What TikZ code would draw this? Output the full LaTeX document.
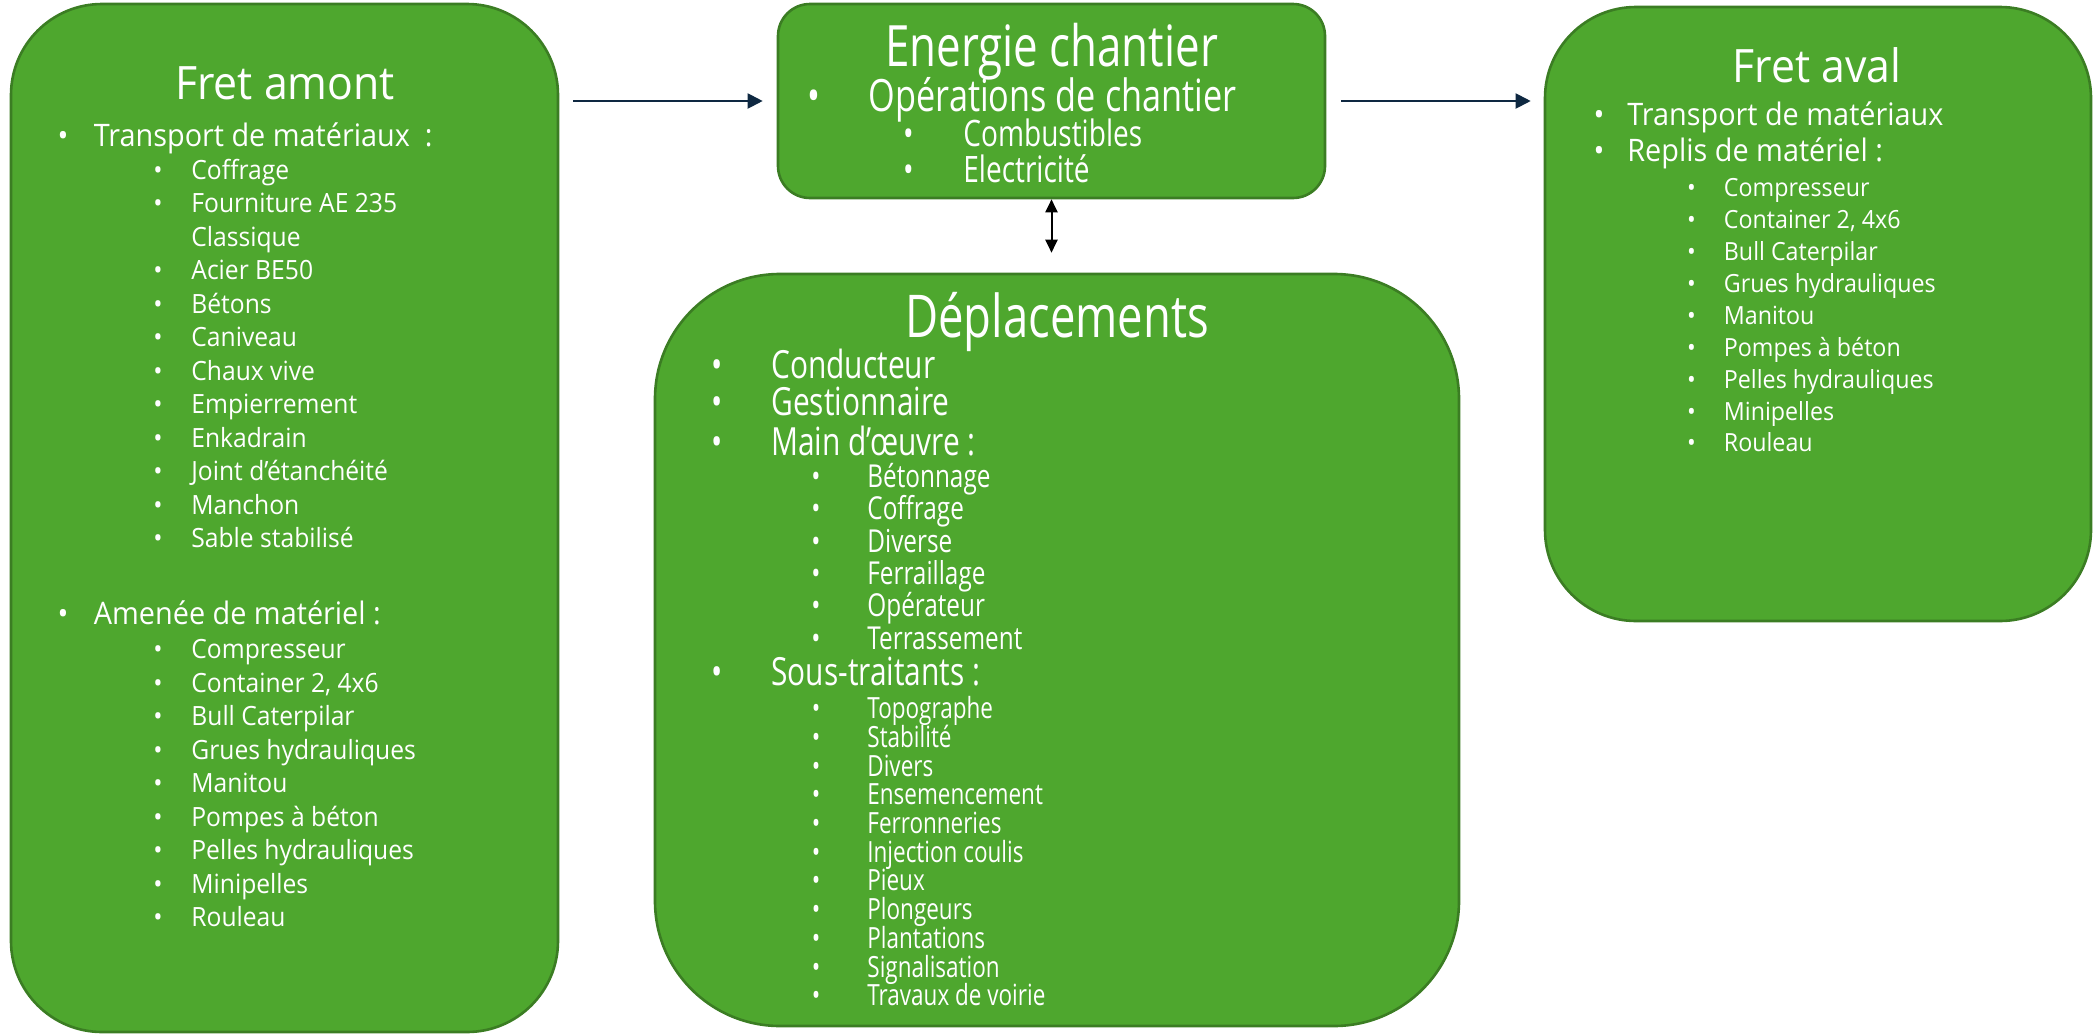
\documentclass[tikz,border=0pt]{standalone}
\usepackage{fontspec}
\setmainfont{Open Sans}
\newfontfamily\wfont{Open Sans}[FakeStretch=0.93]
\newfontfamily\nfont{Open Sans}[FakeStretch=0.77]
\usetikzlibrary{fit,arrows.meta}
\definecolor{boxgreen}{HTML}{4EA72E}
\definecolor{boxline}{HTML}{3B7D23}
\definecolor{navy}{HTML}{0E2841}
\newcommand\myfs[1]{\fontsize{#1}{#1}\selectfont}
\tikzset{
  box/.style={draw=boxline, fill=boxgreen, line width=1.3pt, inner sep=0pt},
  tx/.style={text=white, inner sep=0pt, anchor=mid west},
  bl/.style={text=white, inner sep=0pt, anchor=mid},
  ttl/.style={text=white, inner sep=0pt, anchor=mid},
  navyarr/.style={draw=navy, line width=1pt, -{Triangle[length=7.5pt,width=7.5pt]}},
  dblarr/.style={draw=black, line width=1pt, {Triangle[length=6.5pt,width=6pt]}-{Triangle[length=6.5pt,width=6pt]}},
  fTitle/.style={font=\wfont\myfs{23}, yshift=-6.4pt},
  fL1/.style={font=\wfont\myfs{15.5}, yshift=-3.1pt},
  faL2/.style={font=\wfont\myfs{13.25}, yshift=-2.7pt},
  fvL2/.style={font=\wfont\myfs{12.5}, yshift=-2.2pt},
  ecT/.style={font=\nfont\myfs{28.5}, yshift=-8.5pt},
  ecL1/.style={font=\nfont\myfs{22.25}, yshift=-5.3pt},
  ecL2/.style={font=\nfont\myfs{18.2}, yshift=-3.3pt},
  dpT/.style={font=\nfont\myfs{29.5}, yshift=-7.3pt},
  dpL1/.style={font=\nfont\myfs{19.4}, yshift=-4pt},
  dpL2/.style={font=\nfont\myfs{15.8}, yshift=-3.3pt},
  dpL3/.style={font=\nfont\myfs{14.6}, yshift=-3.3pt},
}
\begin{document}
\begin{tikzpicture}[x=0.5pt,y=-0.5pt]
\useasboundingbox (0,0) rectangle (2095,1034);

% ---------- Fret amont ----------
\node[box, rounded corners=45.5pt, fit={(11,4) (558,1032)}] (fa) {};
\node[ttl, fTitle] (faT) at (285,81.5) {Fret amont};
\node[bl, fL1] (fa1b1) at (63,135) {•};
\node[tx, fL1] (fa1t1) at (93.5,135) {Transport de matériaux\ \ :};
\foreach \k/\t in {0/Coffrage, 1/Fourniture AE 235, 3/Acier BE50, 4/Bétons, 5/Caniveau, 6/Chaux vive, 7/Empierrement, 8/Enkadrain, 9/Joint d’étanchéité, 10/Manchon, 11/Sable stabilisé} {
  \node[bl, faL2] (fa2b\k) at (158,{168.3+33.5*\k}) {•};
  \node[tx, faL2] (fa2t\k) at (191,{168.3+33.5*\k}) {\t};
}
\node[tx, faL2] (fa2t2) at (191,235.3) {Classique};
\node[bl, fL1] (fa1b2) at (63,613) {•};
\node[tx, fL1] (fa1t2) at (93.5,613) {Amenée de matériel :};
\foreach \t [count=\k from 0] in {Compresseur, {Container 2, 4x6}, Bull Caterpilar, Grues hydrauliques, Manitou, Pompes à béton, Pelles hydrauliques, Minipelles, Rouleau} {
  \node[bl, faL2] (fa3b\k) at (158,{648+33.5*\k}) {•};
  \node[tx, faL2] (fa3t\k) at (191,{648+33.5*\k}) {\t};
}

% ---------- Energie chantier ----------
\node[box, rounded corners=16pt, fit={(778,4) (1325,198)}] (ec) {};
\node[ttl, ecT] (ecT) at (1051.5,44) {Energie chantier};
\node[bl, ecL1] (ec1b) at (814,96) {•};
\node[tx, ecL1] (ec1t) at (868.5,96) {Opérations de chantier};
\node[bl, ecL2] (ec2b1) at (908.5,135) {•};
\node[tx, ecL2] (ec2t1) at (963,135) {Combustibles};
\node[bl, ecL2] (ec2b2) at (908.5,171) {•};
\node[tx, ecL2] (ec2t2) at (963,171) {Electricité};

% ---------- Fret aval ----------
\node[box, rounded corners=45.5pt, fit={(1545,7) (2091,621)}] (fv) {};
\node[ttl, fTitle] (fvT) at (1817,64) {Fret aval};
\node[bl, fL1] (fv1b1) at (1599,113.5) {•};
\node[tx, fL1] (fv1t1) at (1627,113.5) {Transport de matériaux};
\node[bl, fL1] (fv1b2) at (1599,149.6) {•};
\node[tx, fL1] (fv1t2) at (1627,149.6) {Replis de matériel :};
\foreach \t [count=\k from 0] in {Compresseur, {Container 2, 4x6}, Bull Caterpilar, Grues hydrauliques, Manitou, Pompes à béton, Pelles hydrauliques, Minipelles, Rouleau} {
  \node[bl, fvL2] (fv2b\k) at (1691.5,{187+31.9*\k}) {•};
  \node[tx, fvL2] (fv2t\k) at (1723.5,{187+31.9*\k}) {\t};
}

% ---------- Déplacements ----------
\node[box, rounded corners=62.5pt, fit={(655,274) (1459,1026)}] (dep) {};
\node[ttl, dpT] (dpT) at (1057,318) {Déplacements};
\foreach \y/\t [count=\k] in {365/Conducteur, 402/Gestionnaire, 442/Main d’œuvre :, 672/Sous-traitants :} {
  \node[bl, dpL1] (dp1b\k) at (717.5,\y) {•};
  \node[tx, dpL1] (dp1t\k) at (771,\y) {\t};
}
\foreach \t [count=\k from 0] in {Bétonnage, Coffrage, Diverse, Ferraillage, Opérateur, Terrassement} {
  \node[bl, dpL2] (dp2b\k) at (816,{475.6+32.3*\k}) {•};
  \node[tx, dpL2] (dp2t\k) at (867,{475.6+32.3*\k}) {\t};
}
\foreach \t [count=\k from 0] in {Topographe, Stabilité, Divers, Ensemencement, Ferronneries, Injection coulis, Pieux, Plongeurs, Plantations, Signalisation, Travaux de voirie} {
  \node[bl, dpL3] (dp3b\k) at (816,{706.8+28.7*\k}) {•};
  \node[tx, dpL3] (dp3t\k) at (867,{706.8+28.7*\k}) {\t};
}

% ---------- Connectors ----------
\draw[navyarr, shorten <=7pt, shorten >=7pt] (fa.east |- ec.west) -- (ec.west);
\draw[navyarr, shorten <=7.5pt, shorten >=6.5pt] (ec.east) -- (ec.east -| fv.west);
\draw[dblarr, shorten >=10pt] (ec.south) -- (ec.south |- dep.north);
\end{tikzpicture}
\end{document}
